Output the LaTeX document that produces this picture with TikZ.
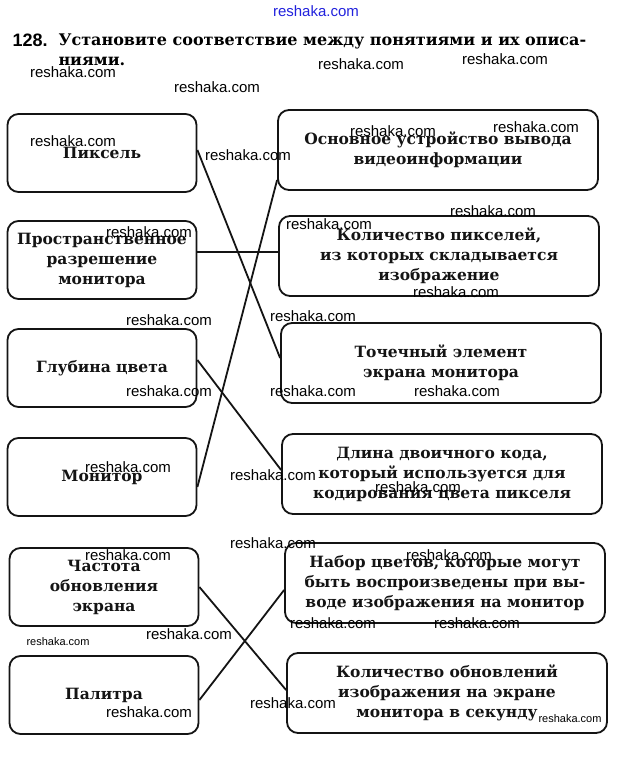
\documentclass[tikz,border=0pt]{standalone}
\usepackage{fontspec}
\setmainfont{DejaVu Serif}
\setsansfont{Liberation Sans}
\usetikzlibrary{positioning}
\definecolor{ink}{HTML}{141414}
\definecolor{wmblue}{HTML}{2222DD}

\begin{document}
\begin{tikzpicture}[x=1pt, y=-1pt,
      term/.style={draw=ink, line width=1.8pt, rounded corners=11pt, text=ink,
                   minimum width=189pt, minimum height=78pt, inner sep=0pt,
                   align=center, font=\bfseries\fontsize{15.5}{20}\selectfont},
      descr/.style={term, minimum width=320pt, minimum height=80pt},
      link/.style={ink, line width=1.8pt},
      wm/.style={font=\sffamily\fontsize{15}{15}\selectfont, inner sep=0pt},
      wmsmall/.style={wm, font=\sffamily\fontsize{11}{11}\selectfont}]
    \fill[white] (0,0) rectangle (629,759);
    \useasboundingbox (0,0) rectangle (629,759);

    % task heading
    \node[anchor=base west, font=\sffamily\bfseries\fontsize{18}{18}\selectfont] (num) at (9,47) {128.};
    \node[anchor=base west, font=\bfseries\fontsize{16}{20}\selectfont] (task1) at (55,46)
      {Установите соответствие между понятиями и их описа-};
    \node[anchor=base west, font=\bfseries\fontsize{16}{20}\selectfont] (task2) at (55,66) {ниями.};

    % left column: terms
    \node[term] (pix)  at (102,153) {Пиксель};
    \node[term] (res)  at (102,260) {Пространственное\\разрешение\\монитора};
    \node[term] (dep)  at (102,368) {Глубина цвета};
    \node[term] (mon)  at (102,477) {Монитор};
    \node[term] (freq) at (104,587) {Частота\\обновления\\экрана};
    \node[term] (pal)  at (104,695) {Палитра};

    % right column: descriptions
    \node[descr] (d1) at (438,150) {Основное устройство вывода\\видеоинформации};
    \node[descr] (d2) at (439,256) {Количество пикселей,\\из которых складывается\\изображение};
    \node[descr] (d3) at (441,363) {Точечный элемент\\экрана монитора};
    \node[descr] (d4) at (442,474) {Длина двоичного кода,\\который используется для\\кодирования цвета пикселя};
    \node[descr] (d5) at (445,583) {Набор цветов, которые могут\\быть воспроизведены при вы-\\воде изображения на монитор};
    \node[descr] (d6) at (447,693) {Количество обновлений\\изображения на экране\\монитора в секунду};

    % matching lines
    \draw[link] ([yshift=3pt]pix.east)   -- ([yshift=5pt]d3.west);
    \draw[link] ([yshift=8pt]res.east)   -- ([yshift=4pt]d2.west);
    \draw[link] ([yshift=8pt]dep.east)   -- ([yshift=4pt]d4.west);
    \draw[link] ([yshift=-10pt]mon.east) -- ([yshift=-30pt]d1.west);
    \draw[link] (freq.east)              -- ([yshift=3pt]d6.west);
    \draw[link] ([yshift=-5pt]pal.east)  -- ([yshift=-7pt]d5.west);

    % watermarks
    \node[wm, text=wmblue] (wm0) at (316,11) {reshaka.com};
    \foreach \x/\y [count=\i] in {73/72, 361/64, 505/59, 217/87, 73/141, 248/155,
        393/131, 536/127, 149/232, 329/224, 493/211, 456/292, 313/316,
        169/320, 169/391, 313/391, 457/391, 128/467, 273/475, 418/487,
        128/555, 273/543, 449/555, 189/634, 333/623, 477/623, 149/712, 293/703}
      \node[wm] (wm\i) at (\x,\y) {reshaka.com};
    \node[wmsmall] (wmA) at (58,642) {reshaka.com};
    \node[wmsmall] (wmB) at (570,719) {reshaka.com};
\end{tikzpicture}
\end{document}
